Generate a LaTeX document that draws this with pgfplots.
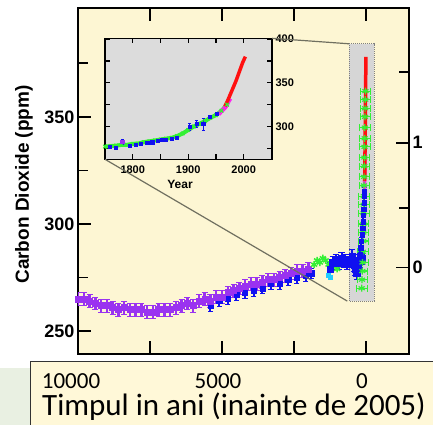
\documentclass[border=0pt]{standalone}
\usepackage{fontspec}
\setmainfont{Liberation Sans}
\newfontfamily\calib{Carlito}
\usepackage{pgfplots}
\pgfplotsset{compat=1.18}
\definecolor{beige}{HTML}{FDF6D3}
\definecolor{boxbeige}{HTML}{FFF8D8}
\definecolor{insetgrey}{HTML}{DCDCDC}
\definecolor{rectgrey}{HTML}{D6D6D6}
\definecolor{lgreen}{HTML}{E9F0E2}
\definecolor{cpurple}{HTML}{9A33F0}
\definecolor{cblue}{HTML}{1010F0}
\definecolor{cgreen}{HTML}{33F033}
\definecolor{cmag}{HTML}{FF22EE}
\definecolor{cred}{HTML}{FF1010}
\definecolor{ccyan}{HTML}{22CCFF}
\definecolor{linegrey}{HTML}{707060}

\begin{document}
\begin{tikzpicture}
\path[use as bounding box] (0,0) rectangle (433bp,-425bp);

% main axis (ppm against years before 2005)
\begin{axis}[
    at={(78bp,-354bp)}, anchor=south west,
    width=331bp, height=346bp, scale only axis,
    x dir=reverse, xmin=-1493, xmax=10000,
    ymin=239.3, ymax=400.8,
    axis background/.style={fill=beige},
    axis line style={line width=1.6bp},
    tick align=inside,
    xtick={0,2500,5000,7500}, xticklabels={}, xtick pos=both,
    ytick={250,300,350}, minor ytick={275,325,375}, ytick pos=left,
    major tick length=13bp, minor tick length=10bp,
    tick style={line width=1.6bp, black},
    /pgf/number format/assume math mode=true,
    yticklabel style={font=\fontsize{18bp}{20bp}\selectfont\bfseries},
    ylabel={Carbon Dioxide (ppm)},
    ylabel style={font=\fontsize{19bp}{21bp}\selectfont\bfseries,
        at={(axis description cs:-0.163,0.49)}, anchor=center},
]
\fill[rectgrey] (axis cs:590,264) rectangle (axis cs:-278,384.1);
\draw[densely dotted, gray, line width=1bp] (axis cs:590,264) rectangle (axis cs:-278,384.1);
\coordinate (rbl) at (axis cs:650,264);
\coordinate (rtl) at (axis cs:590,384.1);

% older blue, under the purple band
\addplot[only marks, mark=square*, mark size=2.6bp, color=cblue,
    error bars/.cd, y dir=both, y fixed=2.5,
    error bar style={line width=2bp, cblue}] coordinates {
    (5400,262) (5100,264) (4800,265) (4500,267) (4200,268) (3900,269)
    (3600,270) (3300,272) (3000,272) (2700,274) (2400,275) (2100,276)
    (1900,277)
};
% purple (Taylor Dome)
\addplot[only marks, mark=square*, mark size=3bp, color=cpurple,
    error bars/.cd, y dir=both, y fixed=3,
    error bar style={line width=2.5bp, cpurple}] coordinates {
    (10000,265) (9800,265) (9600,264) (9400,263) (9200,262) (9000,262)
    (8800,261) (8600,260) (8400,261) (8200,260) (8000,260) (7800,260)
    (7600,259) (7400,259) (7200,260) (7000,260) (6800,260) (6600,261)
    (6400,262) (6200,263) (6000,262) (5800,264) (5600,265) (5400,264)
    (5200,266) (5000,266) (4800,268) (4600,269) (4400,270) (4200,271)
    (4000,272) (3800,272) (3600,273) (3400,274) (3200,274) (3000,275)
    (2800,276) (2600,277) (2400,278) (2200,278) (2000,279)
};
% green, older part
\addplot[only marks, mark=asterisk, mark size=3.5bp, color=cgreen, line width=1.5bp] coordinates {
    (1800,281) (1700,283) (1600,282) (1500,284) (1400,283) (1300,281)
    (1200,280) (1100,281) (1000,279)
};
% cyan
\addplot[only marks, mark=square*, mark size=2bp, color=ccyan] coordinates {
    (1300,276) (1250,275)
};
% blue blob
\addplot[only marks, mark=square*, mark size=3.2bp, color=cblue,
    error bars/.cd, y dir=both, y fixed=3,
    error bar style={line width=2bp, cblue}] coordinates {
    (1250,279) (1150,282) (1050,283) (950,282) (850,284) (750,283)
    (650,282) (550,283) (480,285) (420,281) (370,279) (320,277)
    (280,280) (230,283) (180,285) (130,284)
};
% green, recent
\addplot[only marks, mark=asterisk, mark size=3.5bp, color=cgreen, line width=1.2bp,
    error bars/.cd, x dir=both, x fixed=180,
    error bar style={line width=1.2bp, cgreen}] coordinates {
    (150,270) (140,274) (130,278) (120,282) (110,287) (100,292) (95,296)
    (90,300) (85,305) (80,309) (75,313) (70,318) (65,322) (60,327)
    (55,331) (50,336) (45,340) (40,345) (35,350) (30,354) (25,358) (20,362)
};
% blue, recent
\addplot[only marks, mark=square*, mark size=2.2bp, color=cblue,
    error bars/.cd, y dir=both, y fixed=2,
    error bar style={line width=1.5bp, cblue}] coordinates {
    (200,286) (180,289) (160,292) (140,295) (120,298) (100,301)
    (90,304) (80,307) (70,310) (60,313) (55,315)
};
% magenta
\addplot[color=cmag, line width=3.5bp] coordinates {
    (55,314) (50,318) (45,322) (40,326) (35,330) (30,334)
};
% red
\addplot[color=cred, line width=3.5bp] coordinates {
    (45,320) (40,326) (35,333) (30,340) (25,347) (20,354)
    (15,361) (10,368) (5,374) (2,378)
};
\end{axis}

% right hand axis (radiative forcing)
\begin{axis}[
    at={(78bp,-354bp)}, anchor=south west,
    width=331bp, height=346bp, scale only axis,
    xmin=0, xmax=1, ymin=239.3, ymax=400.8,
    hide x axis, axis y line*=right,
    axis line style={line width=1.6bp},
    tick align=inside,
    ytick={279.6,337.9}, yticklabels={0,1},
    minor ytick={307.5,371},
    major tick length=13bp, minor tick length=10bp,
    tick style={line width=1.6bp, black},
    yticklabel style={font=\fontsize{18bp}{20bp}\selectfont\bfseries},
]
\end{axis}

% inset: 1750 to 2005
\begin{axis}[
    name=inset,
    at={(105bp,-159.3bp)}, anchor=south west,
    width=167bp, height=121bp, scale only axis,
    xmin=1750, xmax=2051, ymin=262.4, ymax=401,
    axis background/.style={fill=insetgrey},
    axis line style={line width=1.2bp},
    tick align=inside,
    xtick={1800,1850,1900,1950,2000}, xticklabels={1800,,1900,,2000},
    ytick={275,300,325,350,375,400}, yticklabels={,300,,350,,400},
    xtick pos=both, ytick pos=both, yticklabel pos=right,
    major tick length=5bp,
    tick style={line width=1.2bp, black},
    xticklabel style={font=\fontsize{11bp}{12bp}\selectfont\bfseries, yshift=-3bp},
    yticklabel style={font=\fontsize{11bp}{12bp}\selectfont\bfseries},
]
\addplot[color=cgreen, line width=4bp, mark=x, mark size=2.5bp,
    mark options={line width=1.2bp}] coordinates {
    (1750,277) (1760,277.5) (1770,278) (1780,279) (1790,279) (1800,280)
    (1810,280.5) (1820,282) (1830,283) (1840,284) (1850,285) (1860,286)
    (1870,287) (1880,289) (1890,292) (1900,296) (1910,300) (1920,303)
    (1930,306) (1940,310) (1950,313) (1960,318) (1970,325)
};
\addplot[only marks, mark=square*, mark size=1.6bp, color=cblue,
    error bars/.cd, y dir=both, y explicit,
    error bar style={line width=0.9bp, cblue}] coordinates {
    (1758,277) +- (0,1) (1770,276) +- (0,1) (1781,282.5) +- (0,3)
    (1795,278) +- (0,1) (1805,279) +- (0,1) (1815,280) +- (0,1)
    (1826,281) +- (0,1) (1835,282) +- (0,1) (1845,284) +- (0,1)
    (1852,285) +- (0,1) (1860,285) +- (0,1) (1870,286) +- (0,1)
    (1879,287) +- (0,1) (1903,299.5) +- (0,4) (1915,303) +- (0,4)
    (1927,303) +- (0,7) (1939,311) +- (0,2) (1951,315) +- (0,1)
};
\addplot[only marks, mark=square*, mark size=1.8bp, color=cpurple] coordinates {
    (1781,282.5)
};
\addplot[color=cmag, line width=4bp] coordinates {
    (1955,314) (1958,316) (1961,318) (1964,320) (1967,322) (1970,325)
    (1973,329) (1976,332)
};
\addplot[color=cred, line width=3.5bp] coordinates {
    (1966,323) (1970,328) (1974,334) (1978,340) (1982,346) (1986,352)
    (1990,359) (1994,366) (1998,373) (2003,380)
};
\end{axis}
\node[font=\fontsize{12bp}{13bp}\selectfont\bfseries] at (180bp,-184bp) {Year};

\draw[linegrey, line width=1.2bp] (inset.south west) -- (rbl);
\draw[linegrey, line width=1.2bp] (inset.north east) -- (rtl);

% overlay box with the Romanian axis caption
\fill[lgreen] (0,-368bp) rectangle (30bp,-425bp);
\fill[boxbeige] (30bp,-361bp) rectangle (440bp,-430bp);
\draw[black!80, line width=1bp] (30bp,-430bp) -- (30bp,-361bp) -- (440bp,-361bp);
\node[font=\calib\fontsize{23bp}{25bp}\selectfont, anchor=base] at (71bp,-388bp) {10000};
\node[font=\calib\fontsize{23bp}{25bp}\selectfont, anchor=base] at (218bp,-388bp) {5000};
\node[font=\calib\fontsize{23bp}{25bp}\selectfont, anchor=base] at (362bp,-388bp) {0};
\node[font=\calib\fontsize{31bp}{33bp}\selectfont, anchor=base west, inner sep=0pt] at (42bp,-415bp) {Timpul in ani (inainte de 2005)};
\end{tikzpicture}
\end{document}
